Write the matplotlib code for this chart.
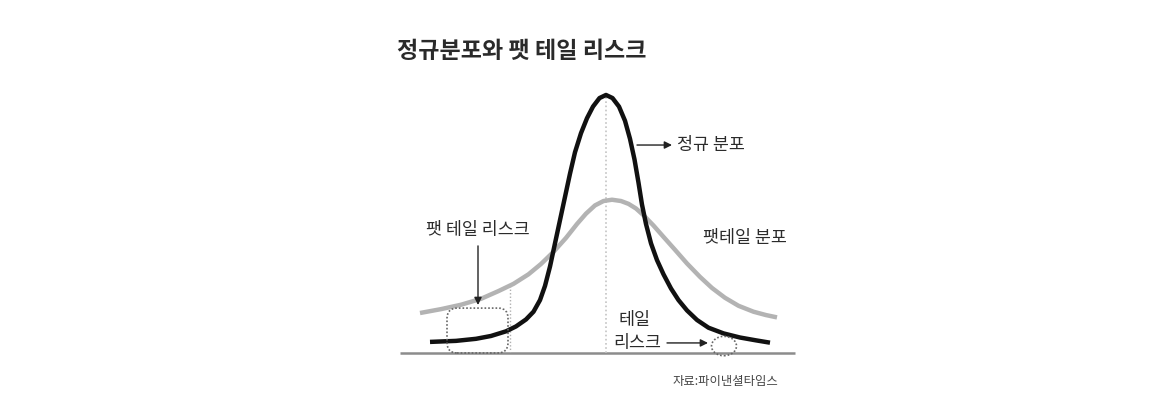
import matplotlib
matplotlib.use("Agg")
import matplotlib.pyplot as plt
from matplotlib.patches import FancyBboxPatch, Ellipse

plt.rcParams['font.family'] = ['Noto Sans CJK KR', 'DejaVu Sans']

# ---- data ----
normal_x = [-3.52, -3.00, -2.60, -2.30, -2.00, -1.80, -1.60, -1.45, -1.32, -1.22,
            -1.12, -1.02, -0.92, -0.82, -0.72, -0.62, -0.50, -0.38, -0.26, -0.13,
            0.00, 0.13, 0.26, 0.38, 0.48, 0.57, 0.65, 0.72, 0.80, 0.90,
            1.02, 1.15, 1.30, 1.45, 1.62, 1.82, 2.05, 2.35, 2.68, 3.00, 3.28]
normal_y = [0.043, 0.047, 0.055, 0.066, 0.084, 0.103, 0.130, 0.160, 0.205, 0.260,
            0.335, 0.425, 0.515, 0.605, 0.695, 0.778, 0.852, 0.910, 0.955, 0.988,
            1.000, 0.988, 0.955, 0.900, 0.830, 0.750, 0.660, 0.575, 0.500, 0.425,
            0.360, 0.305, 0.250, 0.205, 0.165, 0.128, 0.098, 0.076, 0.060, 0.049, 0.040]

fat_x = [-3.72, -3.30, -2.90, -2.50, -2.15, -1.85, -1.55, -1.30, -1.05, -0.80,
         -0.58, -0.40, -0.22, -0.05, 0.12, 0.30, 0.45, 0.60, 0.76, 0.95,
         1.15, 1.38, 1.62, 1.88, 2.12, 2.38, 2.65, 2.95, 3.20, 3.42]
fat_y = [0.155, 0.170, 0.187, 0.210, 0.240, 0.268, 0.305, 0.345, 0.392, 0.446,
         0.500, 0.540, 0.572, 0.589, 0.594, 0.589, 0.578, 0.560, 0.532, 0.494,
         0.450, 0.400, 0.347, 0.295, 0.252, 0.214, 0.183, 0.160, 0.147, 0.138]

title = "정규분포와 팻 테일 리스크"
label_normal = "정규 분포"
label_fat = "팻테일 분포"
label_fat_risk = "팻 테일 리스크"
label_tail = "테일"
label_risk = "리스크"
source = "자료:파이낸셜타임스"

# ---- figure ----
W, H = 1149, 405
fig = plt.figure(figsize=(W / 100, H / 100), dpi=100)
fig.patch.set_facecolor("white")

# plot region in pixels: x 400..800, baseline y=353, top y=80
ax = fig.add_axes([400 / W, (H - 353) / H, 400 / W, (353 - 80) / H])
ax.set_xlim(-4.12, 3.88)
ax.set_ylim(0, 1.058)
ax.axis("off")

# baseline
ax.plot([-4.12, 3.78], [0, 0], color="#8c8c8c", lw=1.8, solid_capstyle="butt",
        clip_on=False, zorder=1)

# dotted guide lines
ax.plot([0, 0], [0, 1.0], color="#c4c4c4", lw=1.2, ls=(0, (1, 1.5)), zorder=1)
ax.plot([-1.92, -1.92], [0, 0.264], color="#b0b0b0", lw=1.0, ls=(0, (1, 1.5)), zorder=1)

# curves
ax.plot(fat_x, fat_y, color="#b3b3b3", lw=3.2, solid_capstyle="butt",
        solid_joinstyle="round", zorder=2)
ax.plot(normal_x, normal_y, color="#111111", lw=3.2, solid_capstyle="butt",
        solid_joinstyle="round", zorder=3)

# fat-tail risk box (rounded, dotted)
box = FancyBboxPatch((-3.18, 0.0), 1.22, 0.174,
                     boxstyle="round,pad=0,rounding_size=0.2",
                     mutation_aspect=0.194, fill=False, ec="#666666",
                     lw=1.2, ls=(0, (1, 1.2)), zorder=4, clip_on=False)
ax.add_patch(box)

# tail-risk ellipse
ell = Ellipse((2.36, 0.027), 0.5, 0.075, fill=False, ec="#666666",
              lw=1.2, ls=(0, (1, 1.2)), zorder=4, clip_on=False)
ax.add_patch(ell)

txt_color = "#2b2b2b"
fs = 12.5
arrow_kw = dict(arrowstyle="-|>", color="#222222", lw=1.0, mutation_scale=11,
                shrinkA=0, shrinkB=0)

# normal distribution label + arrow
ax.annotate("", xy=(1.32, 0.806), xytext=(0.62, 0.806), arrowprops=arrow_kw)
ax.text(1.42, 0.806, label_normal, fontsize=fs, color=txt_color, fontweight="medium",
        ha="left", va="center")

# fat tail distribution label
ax.text(1.94, 0.446, label_fat, fontsize=fs, color=txt_color, fontweight="medium",
        ha="left", va="center")

# fat tail risk label + arrow
ax.text(-2.56, 0.477, label_fat_risk, fontsize=fs, color=txt_color, fontweight="medium",
        ha="center", va="center")
ax.annotate("", xy=(-2.56, 0.186), xytext=(-2.56, 0.415), arrowprops=arrow_kw)

# tail risk label + arrow
ax.text(0.56, 0.128, label_tail, fontsize=fs, color=txt_color, fontweight="medium",
        ha="center", va="center")
ax.text(0.62, 0.039, label_risk, fontsize=fs, color=txt_color, fontweight="medium",
        ha="center", va="center")
ax.annotate("", xy=(2.04, 0.039), xytext=(1.22, 0.039), arrowprops=arrow_kw)

# title and source
fig.text(397 / W, 1 - 52 / H, title, fontsize=16.6, fontweight="bold",
         color="#2a2a2a", ha="left", va="center")
fig.text(778 / W, 1 - 381 / H, source, fontsize=8.9, color="#444444",
         ha="right", va="center")

fig.savefig("out.png", dpi=100, facecolor="white")
